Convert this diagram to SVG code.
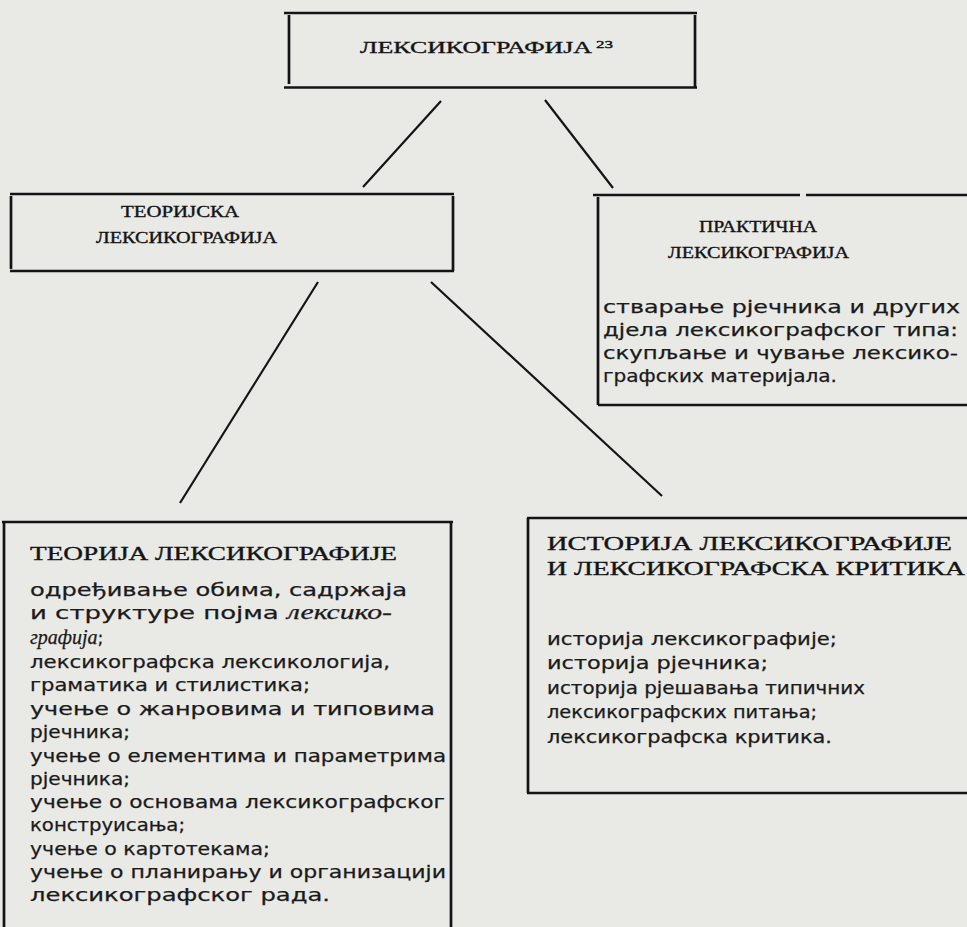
<svg xmlns="http://www.w3.org/2000/svg" width="967" height="927" viewBox="0 0 967 927">
<style>
.bg{fill:#e9e9e6}
.ln{stroke:#141414;stroke-width:2.7;fill:none}
.cn{stroke:#141414;stroke-width:2.2;fill:none}
.h{font-family:"Liberation Serif","DejaVu Serif",serif;fill:#141414;stroke:#141414;stroke-width:0.35}
.b{font-family:"DejaVu Sans","Liberation Sans",sans-serif;font-size:17.5px;fill:#1a1a1a;stroke:#1a1a1a;stroke-width:0.25}
.i{font-family:"Liberation Serif","DejaVu Serif",serif;font-style:italic;font-size:20px}
</style>
<rect class="bg" x="0" y="0" width="967" height="927"/>

<g id="node-leksikografija">
<path class="ln" d="M284 13H697M284 87.5H697M289 15V84M695 15V88"/>
<text class="h" x="360" y="53" font-size="17.5" textLength="232" lengthAdjust="spacingAndGlyphs">ЛЕКСИКОГРАФИЈА</text>
<text class="h" x="596" y="48" font-size="11" textLength="17" lengthAdjust="spacingAndGlyphs">23</text>
</g>

<g id="node-teorijska">
<path class="ln" d="M10 194H454M10 271H454M11 196V269M453 196V271"/>
<text class="h" x="121" y="217" font-size="16" textLength="118" lengthAdjust="spacingAndGlyphs">ТЕОРИЈСКА</text>
<text class="h" x="96" y="243" font-size="16" textLength="181" lengthAdjust="spacingAndGlyphs">ЛЕКСИКОГРАФИЈА</text>
</g>

<g id="node-prakticna">
<path class="ln" d="M593 195H800M806 195H967M598 197V405M598 405H967"/>
<text class="h" x="699" y="232" font-size="16" textLength="118" lengthAdjust="spacingAndGlyphs">ПРАКТИЧНА</text>
<text class="h" x="668" y="258" font-size="16" textLength="181" lengthAdjust="spacingAndGlyphs">ЛЕКСИКОГРАФИЈА</text>
<text class="b" x="603" y="313" textLength="357" lengthAdjust="spacingAndGlyphs">стварање рјечника и других</text>
<text class="b" x="603" y="336" textLength="355" lengthAdjust="spacingAndGlyphs">дјела лексикографског типа:</text>
<text class="b" x="603" y="359" textLength="355" lengthAdjust="spacingAndGlyphs">скупљање и чување лексико-</text>
<text class="b" x="603" y="382" textLength="234" lengthAdjust="spacingAndGlyphs">графских материјала.</text>
</g>

<g id="node-teorija">
<path class="ln" d="M2 522H453M4 522V927M451 522V927"/>
<text class="h" x="30" y="560" font-size="19.5" textLength="367" lengthAdjust="spacingAndGlyphs">ТЕОРИЈА ЛЕКСИКОГРАФИЈЕ</text>
<text class="b" x="30" y="596" textLength="377" lengthAdjust="spacingAndGlyphs">одређивање обима, садржаја</text>
<text class="b" x="30" y="619" textLength="362" lengthAdjust="spacingAndGlyphs">и структуре појма <tspan class="i">лексико-</tspan></text>
<text class="b" x="30" y="644"><tspan class="i">графија</tspan>;</text>
<text class="b" x="30" y="668" textLength="360" lengthAdjust="spacingAndGlyphs">лексикографска лексикологија,</text>
<text class="b" x="30" y="691" textLength="280" lengthAdjust="spacingAndGlyphs">граматика и стилистика;</text>
<text class="b" x="30" y="715" textLength="405" lengthAdjust="spacingAndGlyphs">учење о жанровима и типовима</text>
<text class="b" x="30" y="738" textLength="100" lengthAdjust="spacingAndGlyphs">рјечника;</text>
<text class="b" x="30" y="762" textLength="416" lengthAdjust="spacingAndGlyphs">учење о елементима и параметрима</text>
<text class="b" x="30" y="785" textLength="100" lengthAdjust="spacingAndGlyphs">рјечника;</text>
<text class="b" x="30" y="808" textLength="415" lengthAdjust="spacingAndGlyphs">учење о основама лексикографског</text>
<text class="b" x="30" y="831" textLength="155" lengthAdjust="spacingAndGlyphs">конструисања;</text>
<text class="b" x="30" y="855" textLength="240" lengthAdjust="spacingAndGlyphs">учење о картотекама;</text>
<text class="b" x="30" y="878" textLength="416" lengthAdjust="spacingAndGlyphs">учење о планирању и организацији</text>
<text class="b" x="30" y="901" textLength="300" lengthAdjust="spacingAndGlyphs">лексикографског рада.</text>
</g>

<g id="node-istorija">
<path class="ln" d="M527 518H967M528 518V793M527 793H967"/>
<text class="h" x="547" y="550" font-size="19.5" textLength="405" lengthAdjust="spacingAndGlyphs">ИСТОРИЈА ЛЕКСИКОГРАФИЈЕ</text>
<text class="h" x="547" y="575" font-size="19.5" textLength="418" lengthAdjust="spacingAndGlyphs">И ЛЕКСИКОГРАФСКА КРИТИКА</text>
<text class="b" x="547" y="645" textLength="290" lengthAdjust="spacingAndGlyphs">историја лексикографије;</text>
<text class="b" x="547" y="669" textLength="221" lengthAdjust="spacingAndGlyphs">историја рјечника;</text>
<text class="b" x="547" y="694" textLength="318" lengthAdjust="spacingAndGlyphs">историја рјешавања типичних</text>
<text class="b" x="547" y="718" textLength="270" lengthAdjust="spacingAndGlyphs">лексикографских питања;</text>
<text class="b" x="547" y="743" textLength="285" lengthAdjust="spacingAndGlyphs">лексикографска критика.</text>
</g>

<g id="connectors">
<line class="cn" x1="441" y1="101" x2="363" y2="187"/>
<line class="cn" x1="545" y1="100" x2="613" y2="188"/>
<line class="cn" x1="318" y1="282" x2="180" y2="503"/>
<line class="cn" x1="431" y1="282" x2="662" y2="496"/>
</g>
</svg>
